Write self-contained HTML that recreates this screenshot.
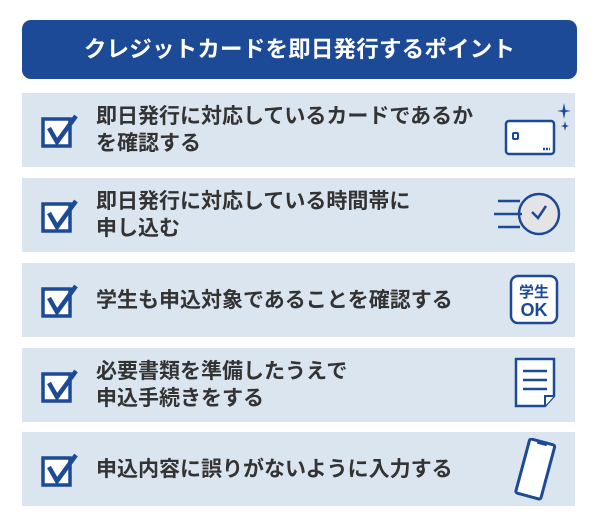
<!DOCTYPE html>
<html><head><meta charset="utf-8"><style>
body{margin:0;width:600px;height:520px;background:#fff;position:relative;font-family:"Liberation Sans","Noto Sans CJK JP",sans-serif;overflow:hidden}
.h{position:absolute;left:22px;top:20px;width:555px;height:59px;background:#1d4a96;border-radius:9px;color:#fff;font-weight:bold;font-size:22.5px;text-align:center;line-height:59px;letter-spacing:0.2px}
.r{position:absolute;left:22px;width:553px;height:74px;background:#dbe5ef}
.t{position:absolute;left:74px;top:0;height:74px;display:flex;align-items:center;font-weight:bold;font-size:21px;color:#333;line-height:27px}
.cb{position:absolute;left:18px;top:20px}
.ic{position:absolute}
</style></head><body>
<div class="h">クレジットカードを即日発行するポイント</div>

<div class="r" style="top:93px">
<svg class="cb" width="40" height="36"><rect x="3" y="6" width="27" height="27" fill="#fff" stroke="#1d4a96" stroke-width="3.5"/><path d="M9 15 L17 29 L36 3" fill="none" stroke="#1d4a96" stroke-width="4.5"/></svg>
<div class="t">即日発行に対応しているカードであるか<br>を確認する</div>
<svg class="ic" style="left:480px;top:8px" width="72" height="60"><rect x="4" y="20" width="48" height="33" rx="3" fill="#fff" stroke="#1d4a96" stroke-width="2.5"/><rect x="11" y="32" width="5" height="6" rx="1" fill="none" stroke="#1d4a96" stroke-width="2"/><path d="M41 48h7" stroke="#1d4a96" stroke-width="2.5" stroke-dasharray="2 1"/><path d="M62 2 L63.5 9 L69 10 L63.5 11 L62 18 L60.5 11 L55 10 L60.5 9Z M63 20 L64 24 L67 25 L64 26 L63 30 L62 26 L59 25 L62 24Z" fill="#1d4a96"/></svg>
</div>

<div class="r" style="top:178px">
<svg class="cb" width="40" height="36"><rect x="3" y="6" width="27" height="27" fill="#fff" stroke="#1d4a96" stroke-width="3.5"/><path d="M9 15 L17 29 L36 3" fill="none" stroke="#1d4a96" stroke-width="4.5"/></svg>
<div class="t">即日発行に対応している時間帯に<br>申し込む</div>
<svg class="ic" style="left:470px;top:10px" width="70" height="56"><circle cx="47" cy="26" r="20" fill="#e4e4e6" stroke="#1d4a96" stroke-width="2.5"/><path d="M40 24 L46 30 L54 18" fill="none" stroke="#1d4a96" stroke-width="2.5"/><path d="M6 13h22M2 26h28M6 39h22" stroke="#1d4a96" stroke-width="2.5"/></svg>
</div>

<div class="r" style="top:263px">
<svg class="cb" width="40" height="36"><rect x="3" y="6" width="27" height="27" fill="#fff" stroke="#1d4a96" stroke-width="3.5"/><path d="M9 15 L17 29 L36 3" fill="none" stroke="#1d4a96" stroke-width="4.5"/></svg>
<div class="t">学生も申込対象であることを確認する</div>
<svg class="ic" style="left:487px;top:11px" width="50" height="52"><rect x="2" y="2" width="46" height="47" rx="7" fill="#fff" stroke="#1d4a96" stroke-width="2.5"/><text x="25" y="23" text-anchor="middle" font-size="15" font-weight="bold" fill="#1d4a96" font-family="Liberation Sans,Noto Sans CJK JP,sans-serif">学生</text><text x="25" y="42" text-anchor="middle" font-size="18" font-weight="bold" fill="#1d4a96" font-family="Liberation Sans,sans-serif">OK</text></svg>
</div>

<div class="r" style="top:348px">
<svg class="cb" width="40" height="36"><rect x="3" y="6" width="27" height="27" fill="#fff" stroke="#1d4a96" stroke-width="3.5"/><path d="M9 15 L17 29 L36 3" fill="none" stroke="#1d4a96" stroke-width="4.5"/></svg>
<div class="t">必要書類を準備したうえで<br>申込手続きをする</div>
<svg class="ic" style="left:492px;top:9px" width="44" height="56"><path d="M2 2 H40 V39 L31 49 H2 Z" fill="#fff" stroke="#1d4a96" stroke-width="2.5"/><path d="M31 49 V39 H40" fill="#fff" stroke="#1d4a96" stroke-width="2"/><path d="M9 14h24M9 23h24M9 32h24" stroke="#1d4a96" stroke-width="2.5"/></svg>
</div>

<div class="r" style="top:432px">
<svg class="cb" width="40" height="36"><rect x="3" y="6" width="27" height="27" fill="#fff" stroke="#1d4a96" stroke-width="3.5"/><path d="M9 15 L17 29 L36 3" fill="none" stroke="#1d4a96" stroke-width="4.5"/></svg>
<div class="t">申込内容に誤りがないように入力する</div>
<svg class="ic" style="left:490px;top:6px" width="46" height="64"><g transform="rotate(15 23 32)"><rect x="10" y="3" width="26" height="56" rx="2" fill="#fff" stroke="#1d4a96" stroke-width="3"/><rect x="18" y="3" width="10" height="3" fill="#1d4a96"/></g></svg>
</div>
</body></html>
